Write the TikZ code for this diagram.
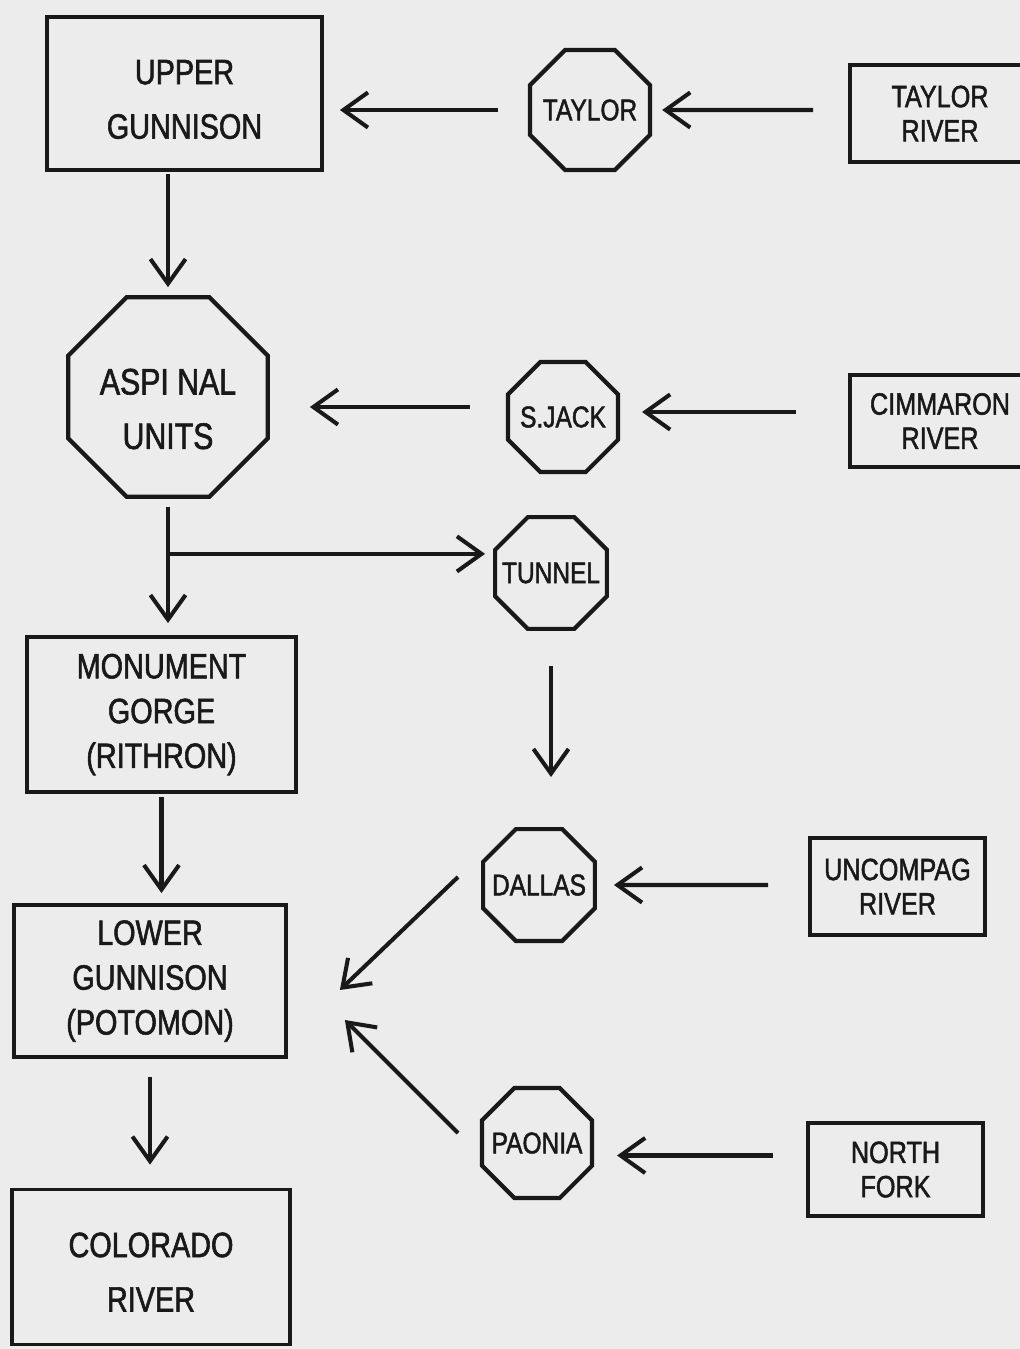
\documentclass[tikz,border=0pt]{standalone}
\usepackage{fontspec}
\newfontfamily\lsans[FakeStretch=0.82,FakeBold=1.6]{Liberation Sans}
\usetikzlibrary{shapes.geometric,arrows.meta,calc}
\definecolor{paper}{RGB}{236,236,236}
\definecolor{ink}{RGB}{25,25,25}
\newcommand{\octtext}[1]{\makebox[0pt][c]{#1}}
\begin{document}
\begin{tikzpicture}[x=0.02cm,y=-0.02cm,
  every node/.style={text=ink},
  bigfont/.style={font={\lsans\fontsize{20}{31}\selectfont}},
  bigbox/.style={draw=ink, line width=2.2pt, rectangle, align=center, inner sep=0pt, bigfont},
  bigboxthree/.style={bigbox, font={\lsans\fontsize{20}{25.5}\selectfont}},
  smallbox/.style={draw=ink, line width=2.2pt, rectangle, align=center, inner sep=0pt,
    font={\lsans\fontsize{17.5}{19.5}\selectfont}},
  oct/.style={draw=ink, line width=2.4pt, regular polygon, regular polygon sides=8,
    inner sep=0pt, font={\lsans\fontsize{17}{20}\selectfont}},
  bigoctfont/.style={font={\lsans\fontsize{21}{31}\selectfont}},
  arr/.style={draw=ink, line width=2.3pt, -{Straight Barb[length=14pt,width=20pt]}},
]
\useasboundingbox (0,0) rectangle (1020,1349);
\clip (0,0) rectangle (1020,1349);
\fill[paper] (0,0) rectangle (1020,1349);

% nodes
\node[draw=ink, line width=2.2pt, rectangle, inner sep=0pt, minimum width=5.5cm, minimum height=3.06cm,
  label={[bigfont, align=center, yshift=-0.12cm]center:UPPER\\GUNNISON}] (upper) at (184.5,93.5) {};
\node[oct, minimum size=2.6cm] (taylor) at (590,110) {\octtext{TAYLOR}};
\node[smallbox, minimum width=3.6cm, minimum height=1.94cm] (taylorriver) at (940,113.5) {TAYLOR\\RIVER};
\node[oct, minimum size=4.32cm,
  label={[bigoctfont, align=center, yshift=-0.24cm]center:ASPI NAL\\UNITS}] (aspinal) at (168,397) {};
\node[oct, minimum size=2.38cm] (sjack) at (563,417) {\octtext{S.JACK}};
\node[smallbox, minimum width=3.6cm, minimum height=1.84cm] (cimmaron) at (940,421) {CIMMARON\\RIVER};
\node[oct, minimum size=2.42cm] (tunnel) at (551,573) {\octtext{TUNNEL}};
\node[bigboxthree, minimum width=5.38cm, minimum height=3.1cm] (monument) at (161.5,714.5) {MONUMENT\\GORGE\\(RITHRON)};
\node[oct, minimum size=2.42cm] (dallas) at (539,885) {\octtext{DALLAS}};
\node[smallbox, minimum width=3.5cm, minimum height=1.94cm] (uncompag) at (897.5,886.5) {UNCOMPAG\\RIVER};
\node[bigboxthree, minimum width=5.44cm, minimum height=3.04cm] (lower) at (150,981) {LOWER\\GUNNISON\\(POTOMON)};
\node[oct, minimum size=2.38cm] (paonia) at (537,1143) {\octtext{PAONIA}};
\node[smallbox, minimum width=3.5cm, minimum height=1.86cm] (northfork) at (895.5,1169.5) {NORTH\\FORK};
\node[draw=ink, line width=2.2pt, rectangle, inner sep=0pt, minimum width=5.56cm, minimum height=3.1cm,
  label={[bigfont, align=center, yshift=-0.1cm]center:COLORADO\\RIVER}] (colorado) at (151,1267) {};

% helper coordinates
\coordinate (sj) at ($(sjack.west)+(0,-10)$);
\coordinate (cm) at ($(cimmaron.west)+(0,-9)$);
\coordinate (br) at ($(aspinal.south)+(0,55)$);
\coordinate (nf) at ($(northfork.west)+(0,-14)$);

% connectors
\draw[arr, shorten <=0.6cm, shorten >=0.32cm] (taylor.west) -- (taylor.west -| upper.east);
\draw[arr, shorten <=0.7cm, shorten >=0.2cm] (taylorriver.west |- taylor) -- (taylor.east);
\draw[arr, shorten <=0.04cm, shorten >=0.16cm] (upper.south -| aspinal.north) -- (aspinal.north);
\draw[arr, shorten <=0.72cm, shorten >=0.8cm] (sj) -- (sj -| aspinal.east);
\draw[arr, shorten <=1.04cm, shorten >=0.44cm] (cm) -- (cm -| sjack.east);
\draw[arr, shorten <=0.16cm, shorten >=0.24cm] (aspinal.south) -- (aspinal.south |- monument.north);
\draw[arr, shorten >=0.16cm] (br) -- (br -| tunnel.west);
\draw[arr, shorten <=0.7cm, shorten >=1.0cm] (tunnel.south) -- (tunnel.south |- dallas.north);
\draw[arr, shorten <=0.06cm, shorten >=0.2cm] (monument.south) -- (monument.south |- lower.north);
\draw[arr, shorten <=0.8cm, shorten >=0.34cm] (uncompag.west |- dallas) -- (dallas.east);
\draw[arr] ($(dallas)+(-81,-8)$) -- ($(lower.east)+(52,9)$);
\draw[arr] ($(paonia)+(-79,-10)$) -- ($(lower.east)+(57,39)$);
\draw[arr, shorten <=0.66cm, shorten >=0.46cm] (nf) -- (nf -| paonia.east);
\draw[arr, shorten <=0.36cm, shorten >=0.46cm] (lower.south) -- (lower.south |- colorado.north);
\end{tikzpicture}
\end{document}
